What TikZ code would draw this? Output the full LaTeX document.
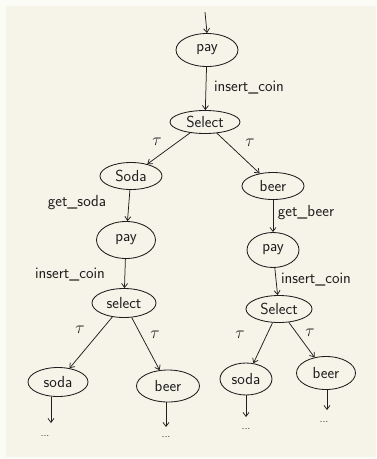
\documentclass[tikz,border=0pt]{standalone}
\usetikzlibrary{shapes.geometric,arrows.meta}
\definecolor{paper}{HTML}{F6F4E9}
\definecolor{margin}{HTML}{FCFCF7}
\definecolor{ink}{HTML}{1E1E1E}
\begin{document}
\begin{tikzpicture}[x=1pt,y=-1pt,
  every node/.style={font=\sffamily\fontsize{16}{18}\selectfont, text=ink},
  st/.style={ellipse, draw=ink, line width=0.85pt, inner sep=0pt},
  tr/.style={draw=ink, line width=0.75pt, -{Straight Barb[length=4pt,width=6pt]}},
  lbl/.style={inner sep=0pt},
  dots/.style={inner sep=0pt, font=\sffamily\fontsize{11}{12}\selectfont}]
\useasboundingbox (0,0) rectangle (376,459);
\fill[margin] (0,0) rectangle (376,459);
\fill[paper] (6,6) rectangle (376,457);

% states
\node[st, minimum width=62pt, minimum height=33pt] (pay1) at (207,50) {pay};
\node[st, minimum width=70pt, minimum height=23pt] (sel1) at (205,122) {Select};
\node[st, minimum width=62pt, minimum height=27pt] (soda1) at (131,176) {Soda};
\node[st, minimum width=62pt, minimum height=27pt] (beer1) at (273,186) {beer};
\node[st, minimum width=59pt, minimum height=37pt] (pay2) at (126,240) {pay};
\node[st, minimum width=52pt, minimum height=35pt] (pay3) at (273,250) {pay};
\node[st, minimum width=64pt, minimum height=29pt] (sel2) at (124,303) {select};
\node[st, minimum width=66pt, minimum height=27pt] (sel3) at (279,309) {Select};
\node[st, minimum width=60pt, minimum height=29pt] (soda2) at (58,382) {soda};
\node[st, minimum width=63pt, minimum height=32pt] (beer2) at (168,386) {beer};
\node[st, minimum width=52pt, minimum height=32pt] (soda3) at (246,379) {soda};
\node[st, minimum width=59pt, minimum height=33pt] (beer3) at (326,373) {beer};

% free ends
\coordinate (start) at (205,12);
\coordinate (e1) at (51,423);
\coordinate (e2) at (166,427);
\coordinate (e3) at (246,417);
\coordinate (e4) at (327,410);

% transitions
\draw[tr] (start) -- (pay1.north);
\draw[tr] (pay1) -- (sel1);
\draw[tr] (sel1) -- (soda1);
\draw[tr] (sel1) -- (beer1);
\draw[tr] (soda1) -- (pay2);
\draw[tr] (beer1) -- (pay3);
\draw[tr] (pay2) -- (sel2);
\draw[tr] (pay3) -- (sel3);
\draw[tr] (sel2) -- (soda2);
\draw[tr] (sel2) -- (beer2);
\draw[tr] (sel3) -- (soda3);
\draw[tr] (sel3) -- (beer3);
\draw[tr] (soda2.south -| e1) -- (e1);
\draw[tr] (beer2.south -| e2) -- (e2);
\draw[tr] (soda3.south -| e3) -- (e3);
\draw[tr] (beer3.south -| e4) -- (e4);

% labels
\node[lbl] (l1) at (249,88) {insert\_coin};
\node[lbl] (t1) at (157,142) {$\tau$};
\node[lbl] (t2) at (250,143) {$\tau$};
\node[lbl] (l2) at (77,203) {get\_soda};
\node[lbl] (l3) at (306,213) {get\_beer};
\node[lbl] (l4) at (70,275) {insert\_coin};
\node[lbl] (l5) at (316,280) {insert\_coin};
\node[lbl] (t3) at (80,330) {$\tau$};
\node[lbl] (t4) at (155,335) {$\tau$};
\node[lbl] (t5) at (240,335) {$\tau$};
\node[lbl] (t6) at (310,333) {$\tau$};

% continuation dots
\node[dots] (d1) at (45,436) {...};
\node[dots] (d2) at (166,437) {...};
\node[dots] (d3) at (246,429) {...};
\node[dots] (d4) at (324,422) {...};
\end{tikzpicture}
\end{document}
